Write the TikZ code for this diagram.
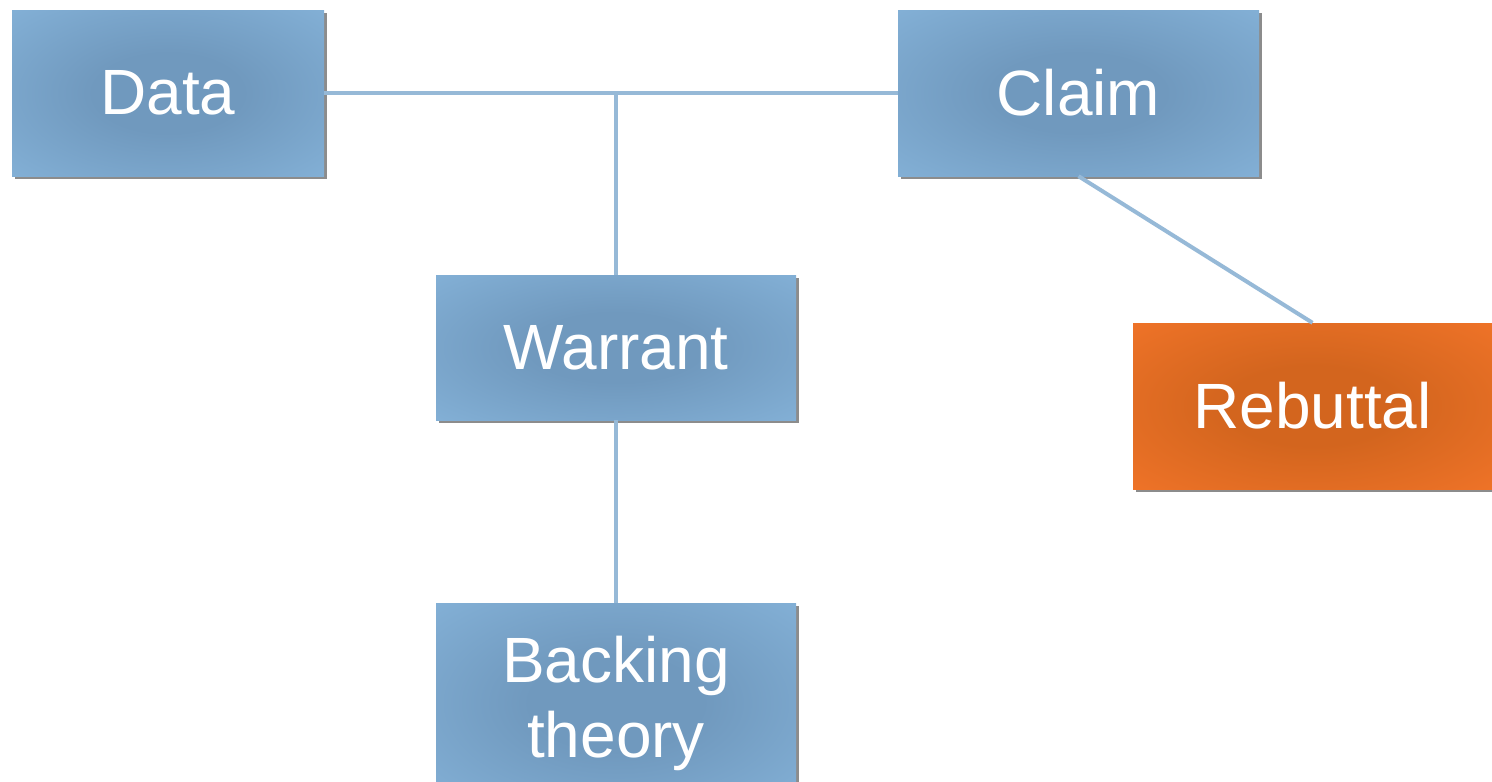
\documentclass[tikz,border=0pt]{standalone}
\usepackage{fontspec}
\setmainfont{Liberation Sans}
\usetikzlibrary{shadows}
\definecolor{lineblue}{RGB}{150,185,215}
\definecolor{bdark}{RGB}{112,153,190}
\definecolor{blight}{RGB}{131,176,214}
\definecolor{bedge}{RGB}{142,177,208}
\definecolor{odark}{RGB}{211,101,30}
\definecolor{olight}{RGB}{239,115,40}
\definecolor{oedge}{RGB}{225,128,66}
\pgfdeclareradialshading{blueglow}{\pgfpoint{0bp}{0bp}}{%
  color(0bp)=(bdark); color(12bp)=(bdark); color(36bp)=(blight); color(45bp)=(blight); color(56bp)=(bedge); color(75bp)=(bedge)}
\pgfdeclareradialshading{orangeglow}{\pgfpoint{0bp}{0bp}}{%
  color(0bp)=(odark); color(12bp)=(odark); color(36bp)=(olight); color(45bp)=(olight); color(56bp)=(oedge); color(75bp)=(oedge)}
\tikzset{
  box/.style={rectangle, shading=blueglow, text=white,
    font=\fontsize{64}{75}\selectfont, align=center, inner sep=0pt,
    drop shadow={shadow xshift=2.5pt, shadow yshift=-2.5pt, opacity=0.6, fill=black!75}},
  obox/.style={box, shading=orangeglow},
  conn/.style={draw=lineblue, line width=4pt}
}
\begin{document}
\begin{tikzpicture}[x=1pt,y=-1pt]
\useasboundingbox (0,0) rectangle (1492,782);
\node[box, minimum width=312pt, minimum height=166pt] (data) at (168,93) {Data};
\node[box, minimum width=361pt, minimum height=166pt] (claim) at (1078.5,93) {Claim};
\node[box, minimum width=360pt, minimum height=145pt] (warrant) at (616,347.5) {Warrant};
\node[box, minimum width=360pt, minimum height=200pt] (backing) at (616,703) {Backing\\theory};
\node[obox, minimum width=359pt, minimum height=166pt] (rebuttal) at (1312.5,406) {Rebuttal};
\coordinate (j) at (warrant.north |- data.east);
\draw[conn] (data.east) -- (claim.west);
\draw[conn] (j) -- (warrant.north);
\draw[conn] (warrant.south) -- (backing.north);
\draw[conn] (claim.south) -- (rebuttal.north);
\end{tikzpicture}
\end{document}
